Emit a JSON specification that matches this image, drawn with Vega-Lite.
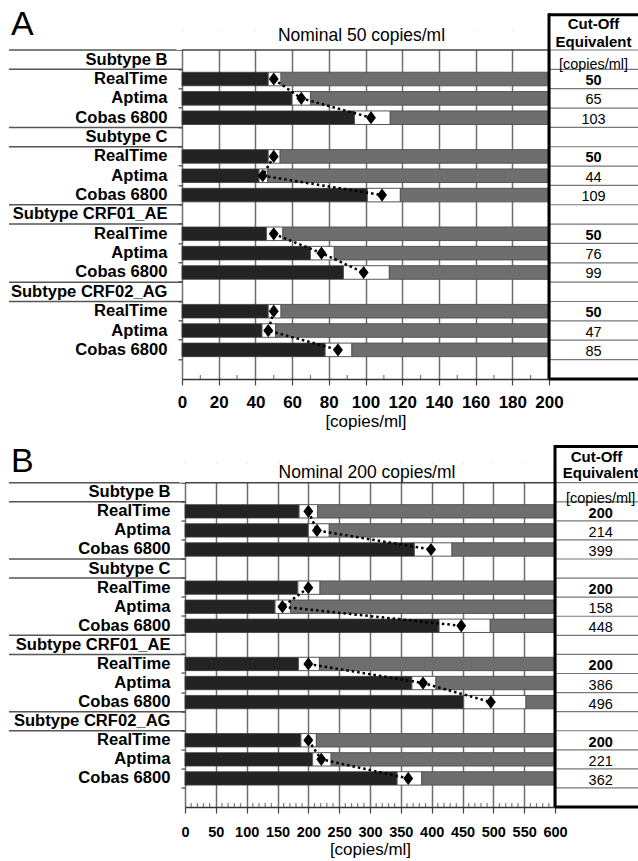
{
  "$schema": "https://vega.github.io/schema/vega-lite/v6.json",
  "padding": {"left": 8, "top": 7.3, "right": 0, "bottom": 0},
  "background": "white",
  "columns": 3,
  "bounds": "flush",
  "spacing": {"row": 65.25, "column": 0},
  "datasets": {
    "rowsA": [
      {"row": "B|hdr", "kind": "hdr", "subtype": "B", "label": "Subtype B"},
      {"row": "B|RealTime", "kind": "assay", "subtype": "B", "assay": "RealTime", "label": "RealTime", "ord": 1, "lo": 47, "hi": 54, "est": 50},
      {"row": "B|Aptima", "kind": "assay", "subtype": "B", "assay": "Aptima", "label": "Aptima", "ord": 2, "lo": 60, "hi": 70, "est": 65},
      {"row": "B|Cobas 6800", "kind": "assay", "subtype": "B", "assay": "Cobas 6800", "label": "Cobas 6800", "ord": 3, "lo": 94, "hi": 113.5, "est": 103},
      {"row": "C|hdr", "kind": "hdr", "subtype": "C", "label": "Subtype C"},
      {"row": "C|RealTime", "kind": "assay", "subtype": "C", "assay": "RealTime", "label": "RealTime", "ord": 1, "lo": 47, "hi": 53.5, "est": 50},
      {"row": "C|Aptima", "kind": "assay", "subtype": "C", "assay": "Aptima", "label": "Aptima", "ord": 2, "lo": 42, "hi": 46.7, "est": 44},
      {"row": "C|Cobas 6800", "kind": "assay", "subtype": "C", "assay": "Cobas 6800", "label": "Cobas 6800", "ord": 3, "lo": 101, "hi": 119, "est": 109},
      {"row": "CRF01_AE|hdr", "kind": "hdr", "subtype": "CRF01_AE", "label": "Subtype CRF01_AE"},
      {"row": "CRF01_AE|RealTime", "kind": "assay", "subtype": "CRF01_AE", "assay": "RealTime", "label": "RealTime", "ord": 1, "lo": 46, "hi": 55, "est": 50},
      {"row": "CRF01_AE|Aptima", "kind": "assay", "subtype": "CRF01_AE", "assay": "Aptima", "label": "Aptima", "ord": 2, "lo": 70, "hi": 83, "est": 76},
      {"row": "CRF01_AE|Cobas 6800", "kind": "assay", "subtype": "CRF01_AE", "assay": "Cobas 6800", "label": "Cobas 6800", "ord": 3, "lo": 88, "hi": 113, "est": 99},
      {"row": "CRF02_AG|hdr", "kind": "hdr", "subtype": "CRF02_AG", "label": "Subtype CRF02_AG"},
      {"row": "CRF02_AG|RealTime", "kind": "assay", "subtype": "CRF02_AG", "assay": "RealTime", "label": "RealTime", "ord": 1, "lo": 47, "hi": 54, "est": 50},
      {"row": "CRF02_AG|Aptima", "kind": "assay", "subtype": "CRF02_AG", "assay": "Aptima", "label": "Aptima", "ord": 2, "lo": 43.6, "hi": 51, "est": 47},
      {"row": "CRF02_AG|Cobas 6800", "kind": "assay", "subtype": "CRF02_AG", "assay": "Cobas 6800", "label": "Cobas 6800", "ord": 3, "lo": 78, "hi": 92.6, "est": 85},
      {"row": "end", "kind": "blank", "label": ""}
    ],
    "rowsB": [
      {"row": "B|hdr", "kind": "hdr", "subtype": "B", "label": "Subtype B"},
      {"row": "B|RealTime", "kind": "assay", "subtype": "B", "assay": "RealTime", "label": "RealTime", "ord": 1, "lo": 185, "hi": 215, "est": 200},
      {"row": "B|Aptima", "kind": "assay", "subtype": "B", "assay": "Aptima", "label": "Aptima", "ord": 2, "lo": 200, "hi": 234, "est": 214},
      {"row": "B|Cobas 6800", "kind": "assay", "subtype": "B", "assay": "Cobas 6800", "label": "Cobas 6800", "ord": 3, "lo": 372, "hi": 433, "est": 399},
      {"row": "C|hdr", "kind": "hdr", "subtype": "C", "label": "Subtype C"},
      {"row": "C|RealTime", "kind": "assay", "subtype": "C", "assay": "RealTime", "label": "RealTime", "ord": 1, "lo": 183, "hi": 219, "est": 200},
      {"row": "C|Aptima", "kind": "assay", "subtype": "C", "assay": "Aptima", "label": "Aptima", "ord": 2, "lo": 146, "hi": 171, "est": 158},
      {"row": "C|Cobas 6800", "kind": "assay", "subtype": "C", "assay": "Cobas 6800", "label": "Cobas 6800", "ord": 3, "lo": 412, "hi": 495, "est": 448},
      {"row": "CRF01_AE|hdr", "kind": "hdr", "subtype": "CRF01_AE", "label": "Subtype CRF01_AE"},
      {"row": "CRF01_AE|RealTime", "kind": "assay", "subtype": "CRF01_AE", "assay": "RealTime", "label": "RealTime", "ord": 1, "lo": 184, "hi": 218, "est": 200},
      {"row": "CRF01_AE|Aptima", "kind": "assay", "subtype": "CRF01_AE", "assay": "Aptima", "label": "Aptima", "ord": 2, "lo": 368, "hi": 407, "est": 386},
      {"row": "CRF01_AE|Cobas 6800", "kind": "assay", "subtype": "CRF01_AE", "assay": "Cobas 6800", "label": "Cobas 6800", "ord": 3, "lo": 452, "hi": 553, "est": 496},
      {"row": "CRF02_AG|hdr", "kind": "hdr", "subtype": "CRF02_AG", "label": "Subtype CRF02_AG"},
      {"row": "CRF02_AG|RealTime", "kind": "assay", "subtype": "CRF02_AG", "assay": "RealTime", "label": "RealTime", "ord": 1, "lo": 188, "hi": 213, "est": 200},
      {"row": "CRF02_AG|Aptima", "kind": "assay", "subtype": "CRF02_AG", "assay": "Aptima", "label": "Aptima", "ord": 2, "lo": 207, "hi": 237, "est": 221},
      {"row": "CRF02_AG|Cobas 6800", "kind": "assay", "subtype": "CRF02_AG", "assay": "Cobas 6800", "label": "Cobas 6800", "ord": 3, "lo": 344, "hi": 384, "est": 362},
      {"row": "end", "kind": "blank", "label": ""}
    ]
  },
  "concat": [
    {
      "width": 176, "height": 367.6,
      "data": {"name": "rowsA"},
      "layer": [
        {"transform": [{"filter": "datum.kind === 'hdr'"}], "mark": {"type": "rule", "color": "#555", "strokeWidth": 1.5},
         "encoding": {"x": {"datum": 0, "type": "quantitative", "scale": {"domain": [0, 1], "range": [0, 173]}, "axis": null}, "x2": {"datum": 1},
           "y": {"field": "row", "type": "nominal", "bandPosition": 0, "scale": {"type": "band", "domain": ["h1","h2","B|hdr","B|RealTime","B|Aptima","B|Cobas 6800","C|hdr","C|RealTime","C|Aptima","C|Cobas 6800","CRF01_AE|hdr","CRF01_AE|RealTime","CRF01_AE|Aptima","CRF01_AE|Cobas 6800","CRF02_AG|hdr","CRF02_AG|RealTime","CRF02_AG|Aptima","CRF02_AG|Cobas 6800","end"], "paddingInner": 0, "paddingOuter": 0}, "axis": null}}},
        {"transform": [{"filter": "datum.kind === 'hdr'"}], "mark": {"type": "rule", "color": "#555", "strokeWidth": 1.5},
         "encoding": {"x": {"datum": 0, "type": "quantitative", "scale": {"domain": [0, 1], "range": [0, 173]}, "axis": null}, "x2": {"datum": 1},
           "y": {"field": "row", "type": "nominal", "bandPosition": 1, "scale": {"type": "band", "domain": ["h1","h2","B|hdr","B|RealTime","B|Aptima","B|Cobas 6800","C|hdr","C|RealTime","C|Aptima","C|Cobas 6800","CRF01_AE|hdr","CRF01_AE|RealTime","CRF01_AE|Aptima","CRF01_AE|Cobas 6800","CRF02_AG|hdr","CRF02_AG|RealTime","CRF02_AG|Aptima","CRF02_AG|Cobas 6800","end"], "paddingInner": 0, "paddingOuter": 0}, "axis": null}}},
        {"transform": [{"filter": "datum.kind !== 'blank'"}],
         "mark": {"type": "text", "align": "right", "baseline": "middle", "fontSize": 16.6, "fontWeight": "bold", "dx": -14.5, "color": "black"},
         "encoding": {
           "x": {"datum": 1, "type": "quantitative", "scale": {"domain": [0, 1], "range": [0, 173]}, "axis": null},
           "y": {"field": "row", "type": "nominal", "scale": {"type": "band", "domain": ["h1","h2","B|hdr","B|RealTime","B|Aptima","B|Cobas 6800","C|hdr","C|RealTime","C|Aptima","C|Cobas 6800","CRF01_AE|hdr","CRF01_AE|RealTime","CRF01_AE|Aptima","CRF01_AE|Cobas 6800","CRF02_AG|hdr","CRF02_AG|RealTime","CRF02_AG|Aptima","CRF02_AG|Cobas 6800","end"], "paddingInner": 0, "paddingOuter": 0}, "axis": null},
           "text": {"field": "label"}}},
        {"data": {"values": [{}]},
         "mark": {"type": "text", "text": "A", "align": "left", "baseline": "middle", "fontSize": 34, "dx": 2, "dy": 4, "color": "black"},
         "encoding": {
           "x": {"datum": 0, "type": "quantitative", "scale": {"domain": [0, 1], "range": [0, 173]}, "axis": null},
           "y": {"datum": "h1", "type": "nominal", "scale": {"type": "band", "domain": ["h1","h2","B|hdr","B|RealTime","B|Aptima","B|Cobas 6800","C|hdr","C|RealTime","C|Aptima","C|Cobas 6800","CRF01_AE|hdr","CRF01_AE|RealTime","CRF01_AE|Aptima","CRF01_AE|Cobas 6800","CRF02_AG|hdr","CRF02_AG|RealTime","CRF02_AG|Aptima","CRF02_AG|Cobas 6800","end"], "paddingInner": 0, "paddingOuter": 0}, "axis": null}}}
      ]
    },
    {
      "width": 370, "height": 367.6,
      "data": {"name": "rowsA"},
      "layer": [
        {"data": {"values": [{"row": "h1"}, {"row": "h2"}]},
         "mark": {"type": "bar", "fill": "white", "height": {"band": 1}},
         "encoding": {"x": {"datum": -3, "type": "quantitative", "scale": {"domain": [0, 200], "range": [-3, 364], "nice": false, "zero": false}}, "x2": {"datum": 203},
           "y": {"field": "row", "type": "nominal", "scale": {"type": "band", "domain": ["h1","h2","B|hdr","B|RealTime","B|Aptima","B|Cobas 6800","C|hdr","C|RealTime","C|Aptima","C|Cobas 6800","CRF01_AE|hdr","CRF01_AE|RealTime","CRF01_AE|Aptima","CRF01_AE|Cobas 6800","CRF02_AG|hdr","CRF02_AG|RealTime","CRF02_AG|Aptima","CRF02_AG|Cobas 6800","end"], "paddingInner": 0, "paddingOuter": 0}}}},
        {"transform": [{"filter": "datum.kind === 'assay'"}],
         "mark": {"type": "bar", "fill": "#232323", "stroke": "#3a3a3a", "strokeWidth": 0.8, "height": {"band": 0.7}},
         "encoding": {"x": {"field": "lo", "type": "quantitative", "scale": {"domain": [0, 200], "range": [-3, 364], "nice": false, "zero": false},
           "axis": {"values": [0,20,40,60,80,100,120,140,160,180,200], "tickCount": 40,
             "grid": true, "gridColor": "#6e6e6e", "gridWidth": 1.5,
             "tickSize": 6, "tickColor": "#444", "tickWidth": 1.2, "domainColor": "#333", "domainWidth": 1.5,
             "labelOverlap": false, "labelFlush": false,
             "labelFont": "Liberation Sans",
             "labelFontSize": 17, "labelFontWeight": "bold", "labelColor": "black", "labelPadding": 9.4,
             "title": "[copies/ml]", "titleFont": "Liberation Sans", "titleFontSize": 17, "titleFontWeight": "normal", "titleColor": "black", "titlePadding": 2.9}},
           "y": {"field": "row", "type": "nominal", "scale": {"type": "band", "domain": ["h1","h2","B|hdr","B|RealTime","B|Aptima","B|Cobas 6800","C|hdr","C|RealTime","C|Aptima","C|Cobas 6800","CRF01_AE|hdr","CRF01_AE|RealTime","CRF01_AE|Aptima","CRF01_AE|Cobas 6800","CRF02_AG|hdr","CRF02_AG|RealTime","CRF02_AG|Aptima","CRF02_AG|Cobas 6800","end"], "paddingInner": 0, "paddingOuter": 0},
              "axis": {"values": ["B|hdr","B|RealTime","B|Aptima","B|Cobas 6800","C|hdr","C|RealTime","C|Aptima","C|Cobas 6800","CRF01_AE|hdr","CRF01_AE|RealTime","CRF01_AE|Aptima","CRF01_AE|Cobas 6800","CRF02_AG|hdr","CRF02_AG|RealTime","CRF02_AG|Aptima","CRF02_AG|Cobas 6800","end"], "bandPosition": 0, "offset": 3, "labels": false, "domain": false, "grid": false, "ticks": true, "tickSize": 4, "tickColor": "#444", "tickWidth": 1.2, "title": null}}}},
        {"transform": [{"filter": "datum.kind === 'assay'"}],
         "mark": {"type": "bar", "fill": "white", "stroke": "#555", "strokeWidth": 1, "height": {"band": 0.7}},
         "encoding": {"x": {"field": "lo", "type": "quantitative", "scale": {"domain": [0, 200], "range": [-3, 364], "nice": false, "zero": false}}, "x2": {"field": "hi"},
           "y": {"field": "row", "type": "nominal", "scale": {"type": "band", "domain": ["h1","h2","B|hdr","B|RealTime","B|Aptima","B|Cobas 6800","C|hdr","C|RealTime","C|Aptima","C|Cobas 6800","CRF01_AE|hdr","CRF01_AE|RealTime","CRF01_AE|Aptima","CRF01_AE|Cobas 6800","CRF02_AG|hdr","CRF02_AG|RealTime","CRF02_AG|Aptima","CRF02_AG|Cobas 6800","end"], "paddingInner": 0, "paddingOuter": 0}}}},
        {"transform": [{"filter": "datum.kind === 'assay'"}],
         "mark": {"type": "bar", "fill": "#6e6e6e", "stroke": "#555", "strokeWidth": 1, "height": {"band": 0.7}},
         "encoding": {"x": {"field": "hi", "type": "quantitative", "scale": {"domain": [0, 200], "range": [-3, 364], "nice": false, "zero": false}}, "x2": {"datum": 200},
           "y": {"field": "row", "type": "nominal", "scale": {"type": "band", "domain": ["h1","h2","B|hdr","B|RealTime","B|Aptima","B|Cobas 6800","C|hdr","C|RealTime","C|Aptima","C|Cobas 6800","CRF01_AE|hdr","CRF01_AE|RealTime","CRF01_AE|Aptima","CRF01_AE|Cobas 6800","CRF02_AG|hdr","CRF02_AG|RealTime","CRF02_AG|Aptima","CRF02_AG|Cobas 6800","end"], "paddingInner": 0, "paddingOuter": 0}}}},
        {"transform": [{"filter": "datum.kind === 'assay'"}],
         "mark": {"type": "line", "color": "black", "strokeWidth": 2.5, "strokeDash": [2.5, 3]},
         "encoding": {"x": {"field": "est", "type": "quantitative", "scale": {"domain": [0, 200], "range": [-3, 364], "nice": false, "zero": false}},
           "y": {"field": "row", "type": "nominal", "scale": {"type": "band", "domain": ["h1","h2","B|hdr","B|RealTime","B|Aptima","B|Cobas 6800","C|hdr","C|RealTime","C|Aptima","C|Cobas 6800","CRF01_AE|hdr","CRF01_AE|RealTime","CRF01_AE|Aptima","CRF01_AE|Cobas 6800","CRF02_AG|hdr","CRF02_AG|RealTime","CRF02_AG|Aptima","CRF02_AG|Cobas 6800","end"], "paddingInner": 0, "paddingOuter": 0}},
           "detail": {"field": "subtype"}, "order": {"field": "ord", "type": "quantitative"}}},
        {"transform": [{"filter": "datum.kind === 'assay'"}],
         "mark": {"type": "point", "shape": "M0,-1L0.75,0L0,1L-0.75,0Z", "filled": true, "color": "black", "size": 174, "opacity": 1},
         "encoding": {"x": {"field": "est", "type": "quantitative", "scale": {"domain": [0, 200], "range": [-3, 364], "nice": false, "zero": false}},
           "y": {"field": "row", "type": "nominal", "scale": {"type": "band", "domain": ["h1","h2","B|hdr","B|RealTime","B|Aptima","B|Cobas 6800","C|hdr","C|RealTime","C|Aptima","C|Cobas 6800","CRF01_AE|hdr","CRF01_AE|RealTime","CRF01_AE|Aptima","CRF01_AE|Cobas 6800","CRF02_AG|hdr","CRF02_AG|RealTime","CRF02_AG|Aptima","CRF02_AG|Cobas 6800","end"], "paddingInner": 0, "paddingOuter": 0}}}},
        {"data": {"values": [{"v": 10}, {"v": 30}, {"v": 50}, {"v": 70}, {"v": 90}, {"v": 110}, {"v": 130}, {"v": 150}, {"v": 170}, {"v": 190}]},
         "mark": {"type": "tick", "orient": "vertical", "color": "#444", "thickness": 1.2, "size": 4, "yOffset": 7.68},
         "encoding": {"x": {"field": "v", "type": "quantitative", "scale": {"domain": [0, 200], "range": [-3, 364], "nice": false, "zero": false}},
           "y": {"datum": "end", "type": "nominal", "scale": {"type": "band", "domain": ["h1","h2","B|hdr","B|RealTime","B|Aptima","B|Cobas 6800","C|hdr","C|RealTime","C|Aptima","C|Cobas 6800","CRF01_AE|hdr","CRF01_AE|RealTime","CRF01_AE|Aptima","CRF01_AE|Cobas 6800","CRF02_AG|hdr","CRF02_AG|RealTime","CRF02_AG|Aptima","CRF02_AG|Cobas 6800","end"], "paddingInner": 0, "paddingOuter": 0}}}},
        {"data": {"values": [{}]},
         "mark": {"type": "text", "text": "Nominal 50 copies/ml", "fontSize": 17.5, "dy": -4.7, "dx": -4, "color": "black"},
         "encoding": {"x": {"datum": 100, "type": "quantitative", "scale": {"domain": [0, 200], "range": [-3, 364], "nice": false, "zero": false}},
           "y": {"datum": "h2", "type": "nominal", "scale": {"type": "band", "domain": ["h1","h2","B|hdr","B|RealTime","B|Aptima","B|Cobas 6800","C|hdr","C|RealTime","C|Aptima","C|Cobas 6800","CRF01_AE|hdr","CRF01_AE|RealTime","CRF01_AE|Aptima","CRF01_AE|Cobas 6800","CRF02_AG|hdr","CRF02_AG|RealTime","CRF02_AG|Aptima","CRF02_AG|Cobas 6800","end"], "paddingInner": 0, "paddingOuter": 0}}}},
        {"data": {"values": [{}]},
         "mark": {"type": "rule", "color": "#444", "strokeWidth": 1.5},
         "encoding": {"x": {"datum": 0, "type": "quantitative", "scale": {"domain": [0, 200], "range": [-3, 364], "nice": false, "zero": false}}, "x2": {"datum": 200},
           "y": {"datum": "B|hdr", "type": "nominal", "bandPosition": 0, "scale": {"type": "band", "domain": ["h1","h2","B|hdr","B|RealTime","B|Aptima","B|Cobas 6800","C|hdr","C|RealTime","C|Aptima","C|Cobas 6800","CRF01_AE|hdr","CRF01_AE|RealTime","CRF01_AE|Aptima","CRF01_AE|Cobas 6800","CRF02_AG|hdr","CRF02_AG|RealTime","CRF02_AG|Aptima","CRF02_AG|Cobas 6800","end"], "paddingInner": 0, "paddingOuter": 0}}}}
      ]
    },
    {
      "width": 83, "height": 367.6,
      "data": {"name": "rowsA"},
      "layer": [
        {"mark": {"type": "rule", "color": "#777", "strokeWidth": 1.2},
         "encoding": {"x": {"datum": 0, "type": "quantitative", "scale": {"domain": [0, 1], "range": [-6, 83]}, "axis": null}, "x2": {"datum": 1},
           "y": {"field": "row", "type": "nominal", "bandPosition": 0, "scale": {"type": "band", "domain": ["h1","h2","B|hdr","B|RealTime","B|Aptima","B|Cobas 6800","C|hdr","C|RealTime","C|Aptima","C|Cobas 6800","CRF01_AE|hdr","CRF01_AE|RealTime","CRF01_AE|Aptima","CRF01_AE|Cobas 6800","CRF02_AG|hdr","CRF02_AG|RealTime","CRF02_AG|Aptima","CRF02_AG|Cobas 6800","end"], "paddingInner": 0, "paddingOuter": 0}, "axis": null}}},
        {"data": {"values": [{}]},
         "mark": {"type": "rule", "color": "black", "strokeWidth": 3},
         "encoding": {"x": {"datum": 0, "type": "quantitative", "scale": {"domain": [0, 1], "range": [-6, 83]}, "axis": null},
           "y": {"datum": "h1", "type": "nominal", "bandPosition": 0.1, "scale": {"type": "band", "domain": ["h1","h2","B|hdr","B|RealTime","B|Aptima","B|Cobas 6800","C|hdr","C|RealTime","C|Aptima","C|Cobas 6800","CRF01_AE|hdr","CRF01_AE|RealTime","CRF01_AE|Aptima","CRF01_AE|Cobas 6800","CRF02_AG|hdr","CRF02_AG|RealTime","CRF02_AG|Aptima","CRF02_AG|Cobas 6800","end"], "paddingInner": 0, "paddingOuter": 0}, "axis": null},
           "y2": {"datum": "end", "bandPosition": 1}}},
        {"data": {"values": [{}]},
         "mark": {"type": "rule", "color": "black", "strokeWidth": 3},
         "encoding": {"x": {"datum": 0, "type": "quantitative", "scale": {"domain": [0, 1], "range": [-6, 83]}, "axis": null}, "x2": {"datum": 1},
           "y": {"datum": "h1", "type": "nominal", "bandPosition": 0.18, "scale": {"type": "band", "domain": ["h1","h2","B|hdr","B|RealTime","B|Aptima","B|Cobas 6800","C|hdr","C|RealTime","C|Aptima","C|Cobas 6800","CRF01_AE|hdr","CRF01_AE|RealTime","CRF01_AE|Aptima","CRF01_AE|Cobas 6800","CRF02_AG|hdr","CRF02_AG|RealTime","CRF02_AG|Aptima","CRF02_AG|Cobas 6800","end"], "paddingInner": 0, "paddingOuter": 0}, "axis": null}}},
        {"data": {"values": [{}]},
         "mark": {"type": "rule", "color": "black", "strokeWidth": 3},
         "encoding": {"x": {"datum": 0, "type": "quantitative", "scale": {"domain": [0, 1], "range": [-6, 83]}, "axis": null}, "x2": {"datum": 1},
           "y": {"datum": "end", "type": "nominal", "bandPosition": 1, "scale": {"type": "band", "domain": ["h1","h2","B|hdr","B|RealTime","B|Aptima","B|Cobas 6800","C|hdr","C|RealTime","C|Aptima","C|Cobas 6800","CRF01_AE|hdr","CRF01_AE|RealTime","CRF01_AE|Aptima","CRF01_AE|Cobas 6800","CRF02_AG|hdr","CRF02_AG|RealTime","CRF02_AG|Aptima","CRF02_AG|Cobas 6800","end"], "paddingInner": 0, "paddingOuter": 0}, "axis": null}}},
        {"data": {"values": [{}]},
         "mark": {"type": "text", "text": "Cut-Off", "fontSize": 15, "fontWeight": "bold", "baseline": "middle", "dy": 2.6, "color": "black"},
         "encoding": {"x": {"datum": 0.5, "type": "quantitative", "scale": {"domain": [0, 1], "range": [-6, 83]}, "axis": null},
           "y": {"datum": "h1", "type": "nominal", "scale": {"type": "band", "domain": ["h1","h2","B|hdr","B|RealTime","B|Aptima","B|Cobas 6800","C|hdr","C|RealTime","C|Aptima","C|Cobas 6800","CRF01_AE|hdr","CRF01_AE|RealTime","CRF01_AE|Aptima","CRF01_AE|Cobas 6800","CRF02_AG|hdr","CRF02_AG|RealTime","CRF02_AG|Aptima","CRF02_AG|Cobas 6800","end"], "paddingInner": 0, "paddingOuter": 0}, "axis": null}}},
        {"data": {"values": [{}]},
         "mark": {"type": "text", "text": "Equivalent", "fontSize": 15, "fontWeight": "bold", "baseline": "middle", "dy": 1.3, "color": "black"},
         "encoding": {"x": {"datum": 0.5, "type": "quantitative", "scale": {"domain": [0, 1], "range": [-6, 83]}, "axis": null},
           "y": {"datum": "h2", "type": "nominal", "scale": {"type": "band", "domain": ["h1","h2","B|hdr","B|RealTime","B|Aptima","B|Cobas 6800","C|hdr","C|RealTime","C|Aptima","C|Cobas 6800","CRF01_AE|hdr","CRF01_AE|RealTime","CRF01_AE|Aptima","CRF01_AE|Cobas 6800","CRF02_AG|hdr","CRF02_AG|RealTime","CRF02_AG|Aptima","CRF02_AG|Cobas 6800","end"], "paddingInner": 0, "paddingOuter": 0}, "axis": null}}},
        {"data": {"values": [{}]},
         "mark": {"type": "text", "text": "[copies/ml]", "fontSize": 14.5, "baseline": "middle", "dy": 5, "color": "black"},
         "encoding": {"x": {"datum": 0.5, "type": "quantitative", "scale": {"domain": [0, 1], "range": [-6, 83]}, "axis": null},
           "y": {"datum": "B|hdr", "type": "nominal", "scale": {"type": "band", "domain": ["h1","h2","B|hdr","B|RealTime","B|Aptima","B|Cobas 6800","C|hdr","C|RealTime","C|Aptima","C|Cobas 6800","CRF01_AE|hdr","CRF01_AE|RealTime","CRF01_AE|Aptima","CRF01_AE|Cobas 6800","CRF02_AG|hdr","CRF02_AG|RealTime","CRF02_AG|Aptima","CRF02_AG|Cobas 6800","end"], "paddingInner": 0, "paddingOuter": 0}, "axis": null}}},
        {"transform": [{"filter": "datum.assay === 'RealTime'"}],
         "mark": {"type": "text", "fontSize": 14.5, "fontWeight": "bold", "baseline": "middle", "dy": 2, "color": "black"},
         "encoding": {"x": {"datum": 0.5, "type": "quantitative", "scale": {"domain": [0, 1], "range": [-6, 83]}, "axis": null},
           "y": {"field": "row", "type": "nominal", "scale": {"type": "band", "domain": ["h1","h2","B|hdr","B|RealTime","B|Aptima","B|Cobas 6800","C|hdr","C|RealTime","C|Aptima","C|Cobas 6800","CRF01_AE|hdr","CRF01_AE|RealTime","CRF01_AE|Aptima","CRF01_AE|Cobas 6800","CRF02_AG|hdr","CRF02_AG|RealTime","CRF02_AG|Aptima","CRF02_AG|Cobas 6800","end"], "paddingInner": 0, "paddingOuter": 0}, "axis": null},
           "text": {"field": "est", "type": "nominal"}}},
        {"transform": [{"filter": "datum.kind === 'assay' && datum.assay !== 'RealTime'"}],
         "mark": {"type": "text", "fontSize": 14.5, "baseline": "middle", "dy": 2, "color": "black"},
         "encoding": {"x": {"datum": 0.5, "type": "quantitative", "scale": {"domain": [0, 1], "range": [-6, 83]}, "axis": null},
           "y": {"field": "row", "type": "nominal", "scale": {"type": "band", "domain": ["h1","h2","B|hdr","B|RealTime","B|Aptima","B|Cobas 6800","C|hdr","C|RealTime","C|Aptima","C|Cobas 6800","CRF01_AE|hdr","CRF01_AE|RealTime","CRF01_AE|Aptima","CRF01_AE|Cobas 6800","CRF02_AG|hdr","CRF02_AG|RealTime","CRF02_AG|Aptima","CRF02_AG|Cobas 6800","end"], "paddingInner": 0, "paddingOuter": 0}, "axis": null},
           "text": {"field": "est", "type": "nominal"}}}
      ]
    },
    {
      "width": 176, "height": 362.5,
      "data": {"name": "rowsB"},
      "layer": [
        {"transform": [{"filter": "datum.kind === 'hdr'"}], "mark": {"type": "rule", "color": "#555", "strokeWidth": 1.5},
         "encoding": {"x": {"datum": 0, "type": "quantitative", "scale": {"domain": [0, 1]}, "axis": null}, "x2": {"datum": 1},
           "y": {"field": "row", "type": "nominal", "bandPosition": 0, "scale": {"type": "band", "domain": ["h1","h2","B|hdr","B|RealTime","B|Aptima","B|Cobas 6800","C|hdr","C|RealTime","C|Aptima","C|Cobas 6800","CRF01_AE|hdr","CRF01_AE|RealTime","CRF01_AE|Aptima","CRF01_AE|Cobas 6800","CRF02_AG|hdr","CRF02_AG|RealTime","CRF02_AG|Aptima","CRF02_AG|Cobas 6800","end"], "paddingInner": 0, "paddingOuter": 0}, "axis": null}}},
        {"transform": [{"filter": "datum.kind === 'hdr'"}], "mark": {"type": "rule", "color": "#555", "strokeWidth": 1.5},
         "encoding": {"x": {"datum": 0, "type": "quantitative", "scale": {"domain": [0, 1]}, "axis": null}, "x2": {"datum": 1},
           "y": {"field": "row", "type": "nominal", "bandPosition": 1, "scale": {"type": "band", "domain": ["h1","h2","B|hdr","B|RealTime","B|Aptima","B|Cobas 6800","C|hdr","C|RealTime","C|Aptima","C|Cobas 6800","CRF01_AE|hdr","CRF01_AE|RealTime","CRF01_AE|Aptima","CRF01_AE|Cobas 6800","CRF02_AG|hdr","CRF02_AG|RealTime","CRF02_AG|Aptima","CRF02_AG|Cobas 6800","end"], "paddingInner": 0, "paddingOuter": 0}, "axis": null}}},
        {"transform": [{"filter": "datum.kind !== 'blank'"}],
         "mark": {"type": "text", "align": "right", "baseline": "middle", "fontSize": 16.6, "fontWeight": "bold", "dx": -14.5, "color": "black"},
         "encoding": {
           "x": {"datum": 1, "type": "quantitative", "scale": {"domain": [0, 1]}, "axis": null},
           "y": {"field": "row", "type": "nominal", "scale": {"type": "band", "domain": ["h1","h2","B|hdr","B|RealTime","B|Aptima","B|Cobas 6800","C|hdr","C|RealTime","C|Aptima","C|Cobas 6800","CRF01_AE|hdr","CRF01_AE|RealTime","CRF01_AE|Aptima","CRF01_AE|Cobas 6800","CRF02_AG|hdr","CRF02_AG|RealTime","CRF02_AG|Aptima","CRF02_AG|Cobas 6800","end"], "paddingInner": 0, "paddingOuter": 0}, "axis": null},
           "text": {"field": "label"}}},
        {"data": {"values": [{}]},
         "mark": {"type": "text", "text": "B", "align": "left", "baseline": "middle", "fontSize": 34, "dx": 2, "dy": 7.8, "color": "black"},
         "encoding": {
           "x": {"datum": 0, "type": "quantitative", "scale": {"domain": [0, 1]}, "axis": null},
           "y": {"datum": "h1", "type": "nominal", "scale": {"type": "band", "domain": ["h1","h2","B|hdr","B|RealTime","B|Aptima","B|Cobas 6800","C|hdr","C|RealTime","C|Aptima","C|Cobas 6800","CRF01_AE|hdr","CRF01_AE|RealTime","CRF01_AE|Aptima","CRF01_AE|Cobas 6800","CRF02_AG|hdr","CRF02_AG|RealTime","CRF02_AG|Aptima","CRF02_AG|Cobas 6800","end"], "paddingInner": 0, "paddingOuter": 0}, "axis": null}}}
      ]
    },
    {
      "width": 370, "height": 362.5,
      "data": {"name": "rowsB"},
      "layer": [
        {"data": {"values": [{"row": "h1"}, {"row": "h2"}]},
         "mark": {"type": "bar", "fill": "white", "height": {"band": 1}},
         "encoding": {"x": {"datum": -9, "type": "quantitative", "scale": {"domain": [0, 600], "nice": false, "zero": false}}, "x2": {"datum": 609},
           "y": {"field": "row", "type": "nominal", "scale": {"type": "band", "domain": ["h1","h2","B|hdr","B|RealTime","B|Aptima","B|Cobas 6800","C|hdr","C|RealTime","C|Aptima","C|Cobas 6800","CRF01_AE|hdr","CRF01_AE|RealTime","CRF01_AE|Aptima","CRF01_AE|Cobas 6800","CRF02_AG|hdr","CRF02_AG|RealTime","CRF02_AG|Aptima","CRF02_AG|Cobas 6800","end"], "paddingInner": 0, "paddingOuter": 0}}}},
        {"transform": [{"filter": "datum.kind === 'assay'"}],
         "mark": {"type": "bar", "fill": "#232323", "stroke": "#3a3a3a", "strokeWidth": 0.8, "height": {"band": 0.7}},
         "encoding": {"x": {"field": "lo", "type": "quantitative", "scale": {"domain": [0, 600], "nice": false, "zero": false},
           "axis": {"values": [0,50,100,150,200,250,300,350,400,450,500,550,600], "tickCount": 40,
             "grid": true, "gridColor": "#6e6e6e", "gridWidth": 1.5,
             "tickSize": 6, "tickColor": "#444", "tickWidth": 1.2, "domainColor": "#333", "domainWidth": 1.5,
             "labelOverlap": false, "labelFlush": false,
             "labelFont": "Liberation Sans",
             "labelFontSize": 14.5, "labelFontWeight": "bold", "labelColor": "black", "labelPadding": 12.6,
             "title": "[copies/ml]", "titleFont": "Liberation Sans", "titleFontSize": 17, "titleFontWeight": "normal", "titleColor": "black", "titlePadding": 2.5}},
           "y": {"field": "row", "type": "nominal", "scale": {"type": "band", "domain": ["h1","h2","B|hdr","B|RealTime","B|Aptima","B|Cobas 6800","C|hdr","C|RealTime","C|Aptima","C|Cobas 6800","CRF01_AE|hdr","CRF01_AE|RealTime","CRF01_AE|Aptima","CRF01_AE|Cobas 6800","CRF02_AG|hdr","CRF02_AG|RealTime","CRF02_AG|Aptima","CRF02_AG|Cobas 6800","end"], "paddingInner": 0, "paddingOuter": 0},
              "axis": {"values": ["B|hdr","B|RealTime","B|Aptima","B|Cobas 6800","C|hdr","C|RealTime","C|Aptima","C|Cobas 6800","CRF01_AE|hdr","CRF01_AE|RealTime","CRF01_AE|Aptima","CRF01_AE|Cobas 6800","CRF02_AG|hdr","CRF02_AG|RealTime","CRF02_AG|Aptima","CRF02_AG|Cobas 6800","end"], "bandPosition": 0, "labels": false, "domain": false, "grid": false, "ticks": true, "tickSize": 4, "tickColor": "#444", "tickWidth": 1.2, "title": null}}}},
        {"transform": [{"filter": "datum.kind === 'assay'"}],
         "mark": {"type": "bar", "fill": "white", "stroke": "#555", "strokeWidth": 1, "height": {"band": 0.7}},
         "encoding": {"x": {"field": "lo", "type": "quantitative", "scale": {"domain": [0, 600], "nice": false, "zero": false}}, "x2": {"field": "hi"},
           "y": {"field": "row", "type": "nominal", "scale": {"type": "band", "domain": ["h1","h2","B|hdr","B|RealTime","B|Aptima","B|Cobas 6800","C|hdr","C|RealTime","C|Aptima","C|Cobas 6800","CRF01_AE|hdr","CRF01_AE|RealTime","CRF01_AE|Aptima","CRF01_AE|Cobas 6800","CRF02_AG|hdr","CRF02_AG|RealTime","CRF02_AG|Aptima","CRF02_AG|Cobas 6800","end"], "paddingInner": 0, "paddingOuter": 0}}}},
        {"transform": [{"filter": "datum.kind === 'assay'"}],
         "mark": {"type": "bar", "fill": "#6e6e6e", "stroke": "#555", "strokeWidth": 1, "height": {"band": 0.7}},
         "encoding": {"x": {"field": "hi", "type": "quantitative", "scale": {"domain": [0, 600], "nice": false, "zero": false}}, "x2": {"datum": 600},
           "y": {"field": "row", "type": "nominal", "scale": {"type": "band", "domain": ["h1","h2","B|hdr","B|RealTime","B|Aptima","B|Cobas 6800","C|hdr","C|RealTime","C|Aptima","C|Cobas 6800","CRF01_AE|hdr","CRF01_AE|RealTime","CRF01_AE|Aptima","CRF01_AE|Cobas 6800","CRF02_AG|hdr","CRF02_AG|RealTime","CRF02_AG|Aptima","CRF02_AG|Cobas 6800","end"], "paddingInner": 0, "paddingOuter": 0}}}},
        {"transform": [{"filter": "datum.kind === 'assay'"}],
         "mark": {"type": "line", "color": "black", "strokeWidth": 2.5, "strokeDash": [2.5, 3]},
         "encoding": {"x": {"field": "est", "type": "quantitative", "scale": {"domain": [0, 600], "nice": false, "zero": false}},
           "y": {"field": "row", "type": "nominal", "scale": {"type": "band", "domain": ["h1","h2","B|hdr","B|RealTime","B|Aptima","B|Cobas 6800","C|hdr","C|RealTime","C|Aptima","C|Cobas 6800","CRF01_AE|hdr","CRF01_AE|RealTime","CRF01_AE|Aptima","CRF01_AE|Cobas 6800","CRF02_AG|hdr","CRF02_AG|RealTime","CRF02_AG|Aptima","CRF02_AG|Cobas 6800","end"], "paddingInner": 0, "paddingOuter": 0}},
           "detail": {"field": "subtype"}, "order": {"field": "ord", "type": "quantitative"}}},
        {"transform": [{"filter": "datum.kind === 'assay'"}],
         "mark": {"type": "point", "shape": "M0,-1L0.75,0L0,1L-0.75,0Z", "filled": true, "color": "black", "size": 174, "opacity": 1},
         "encoding": {"x": {"field": "est", "type": "quantitative", "scale": {"domain": [0, 600], "nice": false, "zero": false}},
           "y": {"field": "row", "type": "nominal", "scale": {"type": "band", "domain": ["h1","h2","B|hdr","B|RealTime","B|Aptima","B|Cobas 6800","C|hdr","C|RealTime","C|Aptima","C|Cobas 6800","CRF01_AE|hdr","CRF01_AE|RealTime","CRF01_AE|Aptima","CRF01_AE|Cobas 6800","CRF02_AG|hdr","CRF02_AG|RealTime","CRF02_AG|Aptima","CRF02_AG|Cobas 6800","end"], "paddingInner": 0, "paddingOuter": 0}}}},
        {"data": {"values": [{"v": 10}, {"v": 20}, {"v": 30}, {"v": 40}, {"v": 60}, {"v": 70}, {"v": 80}, {"v": 90}, {"v": 110}, {"v": 120}, {"v": 130}, {"v": 140}, {"v": 160}, {"v": 170}, {"v": 180}, {"v": 190}, {"v": 210}, {"v": 220}, {"v": 230}, {"v": 240}, {"v": 260}, {"v": 270}, {"v": 280}, {"v": 290}, {"v": 310}, {"v": 320}, {"v": 330}, {"v": 340}, {"v": 360}, {"v": 370}, {"v": 380}, {"v": 390}, {"v": 410}, {"v": 420}, {"v": 430}, {"v": 440}, {"v": 460}, {"v": 470}, {"v": 480}, {"v": 490}, {"v": 510}, {"v": 520}, {"v": 530}, {"v": 540}, {"v": 560}, {"v": 570}, {"v": 580}, {"v": 590}]},
         "mark": {"type": "tick", "orient": "vertical", "color": "#444", "thickness": 1.2, "size": 4, "yOffset": 7.54},
         "encoding": {"x": {"field": "v", "type": "quantitative", "scale": {"domain": [0, 600], "nice": false, "zero": false}},
           "y": {"datum": "end", "type": "nominal", "scale": {"type": "band", "domain": ["h1","h2","B|hdr","B|RealTime","B|Aptima","B|Cobas 6800","C|hdr","C|RealTime","C|Aptima","C|Cobas 6800","CRF01_AE|hdr","CRF01_AE|RealTime","CRF01_AE|Aptima","CRF01_AE|Cobas 6800","CRF02_AG|hdr","CRF02_AG|RealTime","CRF02_AG|Aptima","CRF02_AG|Cobas 6800","end"], "paddingInner": 0, "paddingOuter": 0}}}},
        {"data": {"values": [{}]},
         "mark": {"type": "text", "text": "Nominal 200 copies/ml", "fontSize": 17.5, "dy": 0, "dx": -3, "color": "black"},
         "encoding": {"x": {"datum": 300, "type": "quantitative", "scale": {"domain": [0, 600], "nice": false, "zero": false}},
           "y": {"datum": "h2", "type": "nominal", "scale": {"type": "band", "domain": ["h1","h2","B|hdr","B|RealTime","B|Aptima","B|Cobas 6800","C|hdr","C|RealTime","C|Aptima","C|Cobas 6800","CRF01_AE|hdr","CRF01_AE|RealTime","CRF01_AE|Aptima","CRF01_AE|Cobas 6800","CRF02_AG|hdr","CRF02_AG|RealTime","CRF02_AG|Aptima","CRF02_AG|Cobas 6800","end"], "paddingInner": 0, "paddingOuter": 0}}}},
        {"data": {"values": [{}]},
         "mark": {"type": "rule", "color": "#444", "strokeWidth": 1.5},
         "encoding": {"x": {"datum": 0, "type": "quantitative", "scale": {"domain": [0, 600], "nice": false, "zero": false}}, "x2": {"datum": 600},
           "y": {"datum": "B|hdr", "type": "nominal", "bandPosition": 0, "scale": {"type": "band", "domain": ["h1","h2","B|hdr","B|RealTime","B|Aptima","B|Cobas 6800","C|hdr","C|RealTime","C|Aptima","C|Cobas 6800","CRF01_AE|hdr","CRF01_AE|RealTime","CRF01_AE|Aptima","CRF01_AE|Cobas 6800","CRF02_AG|hdr","CRF02_AG|RealTime","CRF02_AG|Aptima","CRF02_AG|Cobas 6800","end"], "paddingInner": 0, "paddingOuter": 0}}}}
      ]
    },
    {
      "width": 83, "height": 362.5,
      "data": {"name": "rowsB"},
      "layer": [
        {"mark": {"type": "rule", "color": "#777", "strokeWidth": 1.2},
         "encoding": {"x": {"datum": 0, "type": "quantitative", "scale": {"domain": [0, 1]}, "axis": null}, "x2": {"datum": 1},
           "y": {"field": "row", "type": "nominal", "bandPosition": 0, "scale": {"type": "band", "domain": ["h1","h2","B|hdr","B|RealTime","B|Aptima","B|Cobas 6800","C|hdr","C|RealTime","C|Aptima","C|Cobas 6800","CRF01_AE|hdr","CRF01_AE|RealTime","CRF01_AE|Aptima","CRF01_AE|Cobas 6800","CRF02_AG|hdr","CRF02_AG|RealTime","CRF02_AG|Aptima","CRF02_AG|Cobas 6800","end"], "paddingInner": 0, "paddingOuter": 0}, "axis": null}}},
        {"data": {"values": [{}]},
         "mark": {"type": "rule", "color": "black", "strokeWidth": 3},
         "encoding": {"x": {"datum": 0, "type": "quantitative", "scale": {"domain": [0, 1]}, "axis": null},
           "y": {"datum": "h1", "type": "nominal", "bandPosition": 0.02, "scale": {"type": "band", "domain": ["h1","h2","B|hdr","B|RealTime","B|Aptima","B|Cobas 6800","C|hdr","C|RealTime","C|Aptima","C|Cobas 6800","CRF01_AE|hdr","CRF01_AE|RealTime","CRF01_AE|Aptima","CRF01_AE|Cobas 6800","CRF02_AG|hdr","CRF02_AG|RealTime","CRF02_AG|Aptima","CRF02_AG|Cobas 6800","end"], "paddingInner": 0, "paddingOuter": 0}, "axis": null},
           "y2": {"datum": "end", "bandPosition": 1}}},
        {"data": {"values": [{}]},
         "mark": {"type": "rule", "color": "black", "strokeWidth": 3},
         "encoding": {"x": {"datum": 0, "type": "quantitative", "scale": {"domain": [0, 1]}, "axis": null}, "x2": {"datum": 1},
           "y": {"datum": "h1", "type": "nominal", "bandPosition": 0.1, "scale": {"type": "band", "domain": ["h1","h2","B|hdr","B|RealTime","B|Aptima","B|Cobas 6800","C|hdr","C|RealTime","C|Aptima","C|Cobas 6800","CRF01_AE|hdr","CRF01_AE|RealTime","CRF01_AE|Aptima","CRF01_AE|Cobas 6800","CRF02_AG|hdr","CRF02_AG|RealTime","CRF02_AG|Aptima","CRF02_AG|Cobas 6800","end"], "paddingInner": 0, "paddingOuter": 0}, "axis": null}}},
        {"data": {"values": [{}]},
         "mark": {"type": "rule", "color": "black", "strokeWidth": 3},
         "encoding": {"x": {"datum": 0, "type": "quantitative", "scale": {"domain": [0, 1]}, "axis": null}, "x2": {"datum": 1},
           "y": {"datum": "end", "type": "nominal", "bandPosition": 1, "scale": {"type": "band", "domain": ["h1","h2","B|hdr","B|RealTime","B|Aptima","B|Cobas 6800","C|hdr","C|RealTime","C|Aptima","C|Cobas 6800","CRF01_AE|hdr","CRF01_AE|RealTime","CRF01_AE|Aptima","CRF01_AE|Cobas 6800","CRF02_AG|hdr","CRF02_AG|RealTime","CRF02_AG|Aptima","CRF02_AG|Cobas 6800","end"], "paddingInner": 0, "paddingOuter": 0}, "axis": null}}},
        {"data": {"values": [{}]},
         "mark": {"type": "text", "text": "Cut-Off", "fontSize": 15, "fontWeight": "bold", "baseline": "middle", "dy": 2.9, "color": "black"},
         "encoding": {"x": {"datum": 0.5, "type": "quantitative", "scale": {"domain": [0, 1]}, "axis": null},
           "y": {"datum": "h1", "type": "nominal", "scale": {"type": "band", "domain": ["h1","h2","B|hdr","B|RealTime","B|Aptima","B|Cobas 6800","C|hdr","C|RealTime","C|Aptima","C|Cobas 6800","CRF01_AE|hdr","CRF01_AE|RealTime","CRF01_AE|Aptima","CRF01_AE|Cobas 6800","CRF02_AG|hdr","CRF02_AG|RealTime","CRF02_AG|Aptima","CRF02_AG|Cobas 6800","end"], "paddingInner": 0, "paddingOuter": 0}, "axis": null}}},
        {"data": {"values": [{}]},
         "mark": {"type": "text", "text": "Equivalent", "fontSize": 15, "fontWeight": "bold", "baseline": "middle", "dy": -0.5, "color": "black"},
         "encoding": {"x": {"datum": 0.55, "type": "quantitative", "scale": {"domain": [0, 1]}, "axis": null},
           "y": {"datum": "h2", "type": "nominal", "scale": {"type": "band", "domain": ["h1","h2","B|hdr","B|RealTime","B|Aptima","B|Cobas 6800","C|hdr","C|RealTime","C|Aptima","C|Cobas 6800","CRF01_AE|hdr","CRF01_AE|RealTime","CRF01_AE|Aptima","CRF01_AE|Cobas 6800","CRF02_AG|hdr","CRF02_AG|RealTime","CRF02_AG|Aptima","CRF02_AG|Cobas 6800","end"], "paddingInner": 0, "paddingOuter": 0}, "axis": null}}},
        {"data": {"values": [{}]},
         "mark": {"type": "text", "text": "[copies/ml]", "fontSize": 14.5, "baseline": "middle", "dy": 6.5, "color": "black"},
         "encoding": {"x": {"datum": 0.55, "type": "quantitative", "scale": {"domain": [0, 1]}, "axis": null},
           "y": {"datum": "B|hdr", "type": "nominal", "scale": {"type": "band", "domain": ["h1","h2","B|hdr","B|RealTime","B|Aptima","B|Cobas 6800","C|hdr","C|RealTime","C|Aptima","C|Cobas 6800","CRF01_AE|hdr","CRF01_AE|RealTime","CRF01_AE|Aptima","CRF01_AE|Cobas 6800","CRF02_AG|hdr","CRF02_AG|RealTime","CRF02_AG|Aptima","CRF02_AG|Cobas 6800","end"], "paddingInner": 0, "paddingOuter": 0}, "axis": null}}},
        {"transform": [{"filter": "datum.assay === 'RealTime'"}],
         "mark": {"type": "text", "fontSize": 14.5, "fontWeight": "bold", "baseline": "middle", "dy": 2.5, "color": "black"},
         "encoding": {"x": {"datum": 0.55, "type": "quantitative", "scale": {"domain": [0, 1]}, "axis": null},
           "y": {"field": "row", "type": "nominal", "scale": {"type": "band", "domain": ["h1","h2","B|hdr","B|RealTime","B|Aptima","B|Cobas 6800","C|hdr","C|RealTime","C|Aptima","C|Cobas 6800","CRF01_AE|hdr","CRF01_AE|RealTime","CRF01_AE|Aptima","CRF01_AE|Cobas 6800","CRF02_AG|hdr","CRF02_AG|RealTime","CRF02_AG|Aptima","CRF02_AG|Cobas 6800","end"], "paddingInner": 0, "paddingOuter": 0}, "axis": null},
           "text": {"field": "est", "type": "nominal"}}},
        {"transform": [{"filter": "datum.kind === 'assay' && datum.assay !== 'RealTime'"}],
         "mark": {"type": "text", "fontSize": 14.5, "baseline": "middle", "dy": 2.5, "color": "black"},
         "encoding": {"x": {"datum": 0.55, "type": "quantitative", "scale": {"domain": [0, 1]}, "axis": null},
           "y": {"field": "row", "type": "nominal", "scale": {"type": "band", "domain": ["h1","h2","B|hdr","B|RealTime","B|Aptima","B|Cobas 6800","C|hdr","C|RealTime","C|Aptima","C|Cobas 6800","CRF01_AE|hdr","CRF01_AE|RealTime","CRF01_AE|Aptima","CRF01_AE|Cobas 6800","CRF02_AG|hdr","CRF02_AG|RealTime","CRF02_AG|Aptima","CRF02_AG|Cobas 6800","end"], "paddingInner": 0, "paddingOuter": 0}, "axis": null},
           "text": {"field": "est", "type": "nominal"}}}
      ]
    }
  ],
  "config": {
    "view": {"stroke": null},
    "font": "Liberation Sans",
    "text": {"color": "black"},
    "axis": {"labelOverlap": false, "labelFlush": false},
    "axisX": {"labelOverlap": false}
  }
}
